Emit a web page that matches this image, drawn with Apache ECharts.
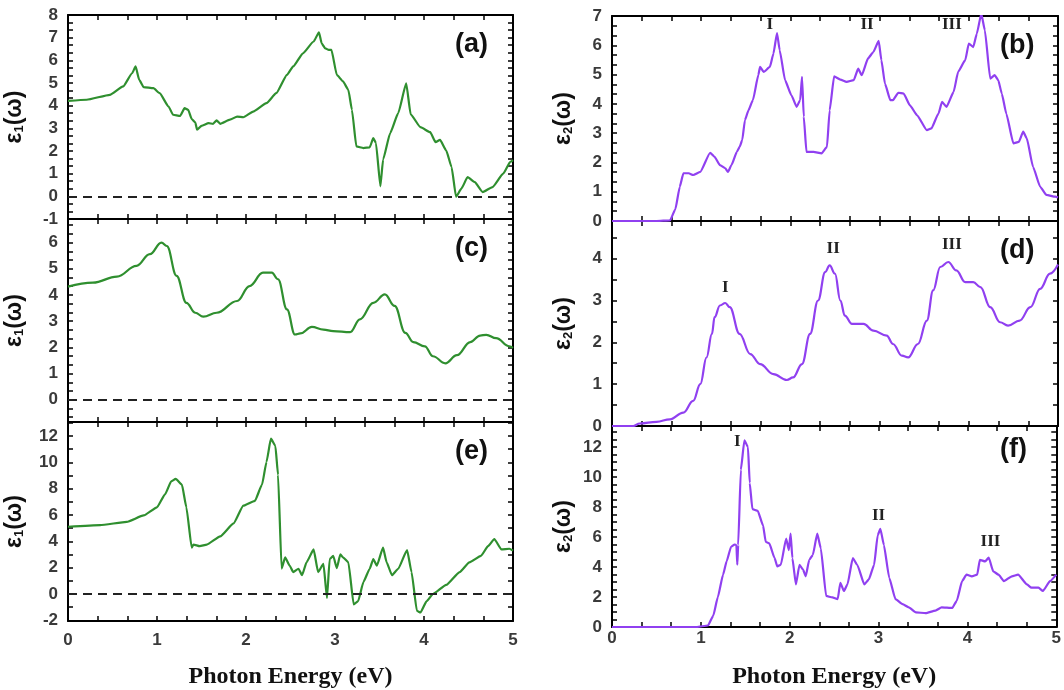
<!DOCTYPE html>
<html>
<head>
<meta charset="utf-8">
<script src="https://cdn.jsdelivr.net/npm/echarts@6/dist/echarts.min.js"></script>
<style>
html, body { margin: 0; padding: 0; background: #fff; }
#chart { width: 1064px; height: 690px; }
</style>
</head>
<body>
<div id="chart"></div>
<script>
// 读图得到的数据点 [能量 eV, 数值]
const eps1A = [
  [0, 4.21], [0.21, 4.26], [0.47, 4.48], [0.62, 4.85], [0.72, 5.43], [0.76, 5.73], [0.8, 5.14],
  [0.85, 4.82], [0.96, 4.77], [1.03, 4.55], [1.13, 3.96], [1.18, 3.6], [1.26, 3.55], [1.31, 3.89],
  [1.35, 3.82], [1.39, 3.41], [1.43, 3.26], [1.45, 2.94], [1.5, 3.11], [1.58, 3.23], [1.63, 3.2],
  [1.67, 3.35], [1.71, 3.2], [1.82, 3.38], [1.9, 3.52], [1.97, 3.49], [2.08, 3.74], [2.23, 4.11],
  [2.34, 4.55], [2.46, 5.36], [2.53, 5.73], [2.64, 6.31], [2.76, 6.83], [2.82, 7.24], [2.85, 6.75],
  [2.89, 6.53], [2.93, 6.46], [2.96, 6.46], [3.02, 5.36], [3.09, 5.07], [3.15, 4.7], [3.19, 3.82],
  [3.24, 2.2], [3.32, 2.13], [3.39, 2.16], [3.43, 2.57], [3.46, 2.35], [3.51, 0.44], [3.54, 1.62],
  [3.62, 2.79], [3.71, 3.67], [3.8, 4.99], [3.85, 3.62], [3.96, 3.05], [4.07, 2.83], [4.13, 2.39],
  [4.18, 2.49], [4.25, 2.02], [4.31, 1.29], [4.36, -0.02], [4.42, 0.34], [4.49, 0.85], [4.57, 0.63],
  [4.66, 0.19], [4.77, 0.41], [4.89, 1.0], [4.97, 1.52], [5, 1.6]
];
const eps1C = [
  [0, 4.32], [0.28, 4.47], [0.55, 4.7], [0.77, 5.11], [0.92, 5.56], [1.05, 6.0], [1.11, 5.87],
  [1.22, 4.73], [1.33, 3.7], [1.43, 3.32], [1.52, 3.17], [1.67, 3.32], [1.9, 3.77], [2.04, 4.34],
  [2.19, 4.85], [2.29, 4.85], [2.36, 4.6], [2.46, 3.45], [2.55, 2.49], [2.61, 2.53], [2.74, 2.78],
  [2.87, 2.68], [2.98, 2.62], [3.17, 2.58], [3.28, 3.07], [3.43, 3.7], [3.56, 4.02], [3.67, 3.58],
  [3.79, 2.55], [3.88, 2.2], [4.01, 2.04], [4.1, 1.66], [4.24, 1.39], [4.37, 1.7], [4.52, 2.2],
  [4.63, 2.45], [4.7, 2.48], [4.81, 2.35], [4.96, 2.04], [5, 1.98]
];
const eps1E = [
  [0, 5.11], [0.36, 5.24], [0.66, 5.48], [0.85, 5.97], [1.0, 6.59], [1.09, 7.57], [1.16, 8.56],
  [1.21, 8.75], [1.28, 8.31], [1.33, 6.59], [1.39, 3.52], [1.41, 3.76], [1.48, 3.64], [1.56, 3.76],
  [1.71, 4.38], [1.86, 5.36], [1.97, 6.71], [2.1, 7.08], [2.18, 8.31], [2.23, 10.03], [2.28, 11.8],
  [2.33, 11.26], [2.36, 9.05], [2.4, 1.92], [2.44, 2.78], [2.49, 2.16], [2.53, 1.67], [2.59, 1.92],
  [2.63, 1.43], [2.68, 2.41], [2.76, 3.39], [2.81, 1.67], [2.87, 2.29], [2.91, -0.3], [2.94, 2.66],
  [2.98, 2.9], [3.02, 1.97], [3.06, 3.02], [3.09, 2.78], [3.15, 2.41], [3.21, -0.79], [3.26, -0.54],
  [3.32, 0.93], [3.39, 1.92], [3.43, 2.66], [3.47, 2.16], [3.54, 3.52], [3.58, 2.41], [3.64, 1.43],
  [3.71, 1.92], [3.81, 3.34], [3.86, 1.67], [3.92, -1.28], [3.96, -1.4], [4.03, -0.54], [4.1, 0],
  [4.25, 0.69], [4.4, 1.67], [4.51, 2.41], [4.64, 2.9], [4.72, 3.64], [4.79, 4.18], [4.87, 3.39],
  [4.96, 3.44], [5, 3.3]
];
const eps2B = [
  [0, 0], [0.5, 0], [0.65, 0.02], [0.71, 0.4], [0.76, 1.17], [0.8, 1.63], [0.86, 1.63], [0.91, 1.57],
  [0.99, 1.68], [1.1, 2.33], [1.15, 2.19], [1.21, 1.91], [1.27, 1.8], [1.3, 1.68], [1.34, 1.91],
  [1.4, 2.36], [1.43, 2.53], [1.46, 2.76], [1.49, 3.44], [1.53, 3.78], [1.58, 4.13], [1.64, 4.98],
  [1.66, 5.26], [1.7, 5.09], [1.77, 5.26], [1.81, 5.72], [1.85, 6.42], [1.88, 5.83], [1.94, 4.81],
  [2.01, 4.3], [2.07, 3.9], [2.11, 4.13], [2.13, 4.92], [2.15, 3.56], [2.18, 2.36], [2.26, 2.36],
  [2.35, 2.31], [2.41, 2.53], [2.44, 3.78], [2.49, 4.94], [2.56, 4.83], [2.63, 4.75], [2.71, 4.81],
  [2.76, 5.2], [2.8, 4.98], [2.87, 5.55], [2.93, 5.77], [2.99, 6.15], [3.02, 5.49], [3.06, 4.69],
  [3.12, 4.13], [3.15, 4.13], [3.21, 4.38], [3.27, 4.35], [3.34, 3.95], [3.42, 3.61], [3.53, 3.1],
  [3.58, 3.16], [3.66, 3.67], [3.7, 4.07], [3.75, 3.9], [3.83, 4.41], [3.88, 5.09], [3.96, 5.49],
  [4.0, 6.06], [4.05, 5.94], [4.09, 6.4], [4.14, 7.08], [4.18, 6.51], [4.24, 4.86], [4.29, 4.98],
  [4.33, 4.81], [4.37, 4.35], [4.42, 3.67], [4.5, 2.65], [4.56, 2.7], [4.61, 3.05], [4.65, 2.82],
  [4.72, 1.85], [4.8, 1.17], [4.87, 0.89], [4.97, 0.83], [5, 0.8]
];
const eps2D = [
  [0, 0], [0.24, 0], [0.31, 0.06], [0.5, 0.1], [0.65, 0.16], [0.8, 0.32], [0.91, 0.6], [0.99, 1.0],
  [1.06, 1.64], [1.12, 2.2], [1.15, 2.6], [1.21, 2.88], [1.27, 2.94], [1.32, 2.84], [1.43, 2.2],
  [1.55, 1.72], [1.66, 1.48], [1.81, 1.24], [1.96, 1.1], [2.03, 1.16], [2.13, 1.48], [2.22, 2.2],
  [2.31, 3.0], [2.39, 3.68], [2.44, 3.84], [2.5, 3.64], [2.56, 3.0], [2.61, 2.64], [2.69, 2.44],
  [2.82, 2.44], [2.93, 2.28], [3.08, 2.16], [3.15, 1.96], [3.25, 1.68], [3.32, 1.64], [3.43, 1.96],
  [3.53, 2.52], [3.6, 3.24], [3.68, 3.8], [3.77, 3.92], [3.86, 3.72], [3.96, 3.44], [4.05, 3.44],
  [4.13, 3.32], [4.24, 2.84], [4.35, 2.48], [4.44, 2.4], [4.57, 2.52], [4.69, 2.84], [4.8, 3.28],
  [4.91, 3.64], [5, 3.86]
];
const eps2F = [
  [0, 0], [0.95, 0], [1.08, 0.1], [1.14, 0.76], [1.19, 1.97], [1.25, 3.49], [1.29, 4.37], [1.34, 5.35],
  [1.38, 5.5], [1.4, 5.46], [1.41, 4.15], [1.42, 5.46], [1.45, 10.48], [1.49, 12.45], [1.53, 12.0],
  [1.55, 9.6], [1.58, 7.86], [1.64, 7.75], [1.7, 6.77], [1.73, 5.68], [1.77, 5.57], [1.83, 4.59],
  [1.86, 4.04], [1.9, 4.15], [1.96, 5.9], [1.99, 5.13], [2.01, 6.22], [2.03, 4.59], [2.07, 2.84],
  [2.11, 4.15], [2.15, 3.82], [2.18, 3.38], [2.22, 4.48], [2.26, 4.8], [2.31, 6.22], [2.35, 5.24],
  [2.41, 2.07], [2.48, 1.97], [2.54, 1.86], [2.57, 2.95], [2.61, 2.4], [2.65, 2.84], [2.71, 4.59],
  [2.76, 4.15], [2.84, 2.84], [2.89, 3.17], [2.95, 4.15], [2.99, 6.11], [3.02, 6.55], [3.06, 5.46],
  [3.12, 3.28], [3.19, 1.86], [3.27, 1.53], [3.34, 1.31], [3.42, 0.98], [3.53, 0.92], [3.64, 1.09],
  [3.71, 1.31], [3.83, 1.27], [3.88, 1.75], [3.94, 3.06], [3.99, 3.49], [4.05, 3.38], [4.11, 3.49],
  [4.14, 4.48], [4.2, 4.37], [4.24, 4.63], [4.29, 3.71], [4.35, 3.49], [4.41, 3.06], [4.5, 3.38],
  [4.57, 3.49], [4.67, 2.84], [4.72, 2.62], [4.8, 2.62], [4.85, 2.4], [4.93, 3.06], [5, 3.49]
];

// 刻度标签
const energyLabels = [0, 1, 2, 3, 4, 5];
const labelsA = [-1, 0, 1, 2, 3, 4, 5, 6, 7, 8];
const labelsC = [0, 1, 2, 3, 4, 5, 6];
const labelsE = [-2, 0, 2, 4, 6, 8, 10, 12];
const labelsB = [0, 1, 2, 3, 4, 5, 6, 7];
const labelsD = [0, 1, 2, 3, 4];
const labelsF = [0, 2, 4, 6, 8, 10, 12];

// 峰的罗马数字标注
const peaksB = [['I', 1.77, 6.69], ['II', 2.86, 6.69], ['III', 3.81, 6.69]];
const peaksD = [['I', 1.27, 3.3], ['II', 2.48, 4.23], ['III', 3.81, 4.33]];
const peaksF = [['I', 1.41, 12.35], ['II', 3.0, 7.42], ['III', 4.26, 5.71]];

const GREEN = '#2f8f2f';
const PURPLE = '#9040f0';
const TICK_COLOR = '#3a3a3a';

// 生成刻度位置
const steps = (lo, hi, step) => {
    const out = [];
    for (let k = Math.ceil(lo / step - 1e-6); k * step <= hi + 1e-6; k++) {
        out.push(+(k * step).toFixed(6));
    }
    return out;
};

const panels = [
    { tag: '(a)', data: eps1A, color: GREEN, left: 68, top: 15, width: 445, height: 204, min: -1, max: 8, labels: labelsA, tickStep: 1 / 3, sub: '1', zero: true },
    { tag: '(c)', data: eps1C, color: GREEN, left: 68, top: 219, width: 445, height: 203, min: -0.85, max: 6.9, labels: labelsC, tickStep: 1 / 3, sub: '1', zero: true, smooth: true },
    { tag: '(e)', data: eps1E, color: GREEN, left: 68, top: 422, width: 445, height: 205, min: -2.05, max: 13.07, labels: labelsE, tickStep: 1, sub: '1', zero: true, bottom: true, xMargin: 11, nameGap: 44 },
    { tag: '(b)', data: eps2B, color: PURPLE, left: 612, top: 16, width: 446, height: 205, min: 0, max: 7, labels: labelsB, tickStep: 1 / 3, sub: '2', peaks: peaksB },
    { tag: '(d)', data: eps2D, color: PURPLE, left: 612, top: 221, width: 446, height: 205, min: 0, max: 4.9, labels: labelsD, tickStep: 0.5, sub: '2', peaks: peaksD, smooth: true },
    { tag: '(f)', data: eps2F, color: PURPLE, left: 612, top: 426, width: 446, height: 204, min: 0, max: 13.4, labels: labelsF, tickStep: 0.5, sub: '2', peaks: peaksF, bottom: true, xMargin: 3, nameGap: 38 }
];

const tickStyle = { show: true, inside: true, length: 5, lineStyle: { color: '#000', width: 1.5 } };
const lineStyle = { show: true, onZero: false, lineStyle: { color: '#000', width: 2 } };
const xTicks = steps(0, 5, 1 / 3);

const grid = [], xAxis = [], yAxis = [], series = [], graphic = [];

panels.forEach((p, i) => {
    grid.push({ left: p.left, top: p.top, width: p.width, height: p.height });
    const yTicks = steps(p.min, p.max, p.tickStep);
    const isLeft = p.left < 300;

    // 底部和顶部 x 轴
    xAxis.push({
        type: 'value', gridIndex: i, min: 0, max: 5, position: 'bottom',
        axisLine: lineStyle,
        axisTick: Object.assign({ customValues: xTicks }, tickStyle),
        axisLabel: {
            show: !!p.bottom, customValues: energyLabels, margin: p.xMargin || 8,
            color: TICK_COLOR, fontSize: 17, fontWeight: 'bold', fontFamily: 'Liberation Sans, Arial'
        },
        splitLine: { show: false },
        name: p.bottom ? 'Photon Energy (eV)' : '',
        nameLocation: 'middle', nameGap: p.nameGap || 40,
        nameTextStyle: { fontFamily: 'Liberation Serif, Times New Roman', fontWeight: 'bold', fontSize: 24, color: '#111' }
    });
    xAxis.push({
        type: 'value', gridIndex: i, min: 0, max: 5, position: 'top',
        axisLine: lineStyle,
        axisTick: Object.assign({ customValues: xTicks }, tickStyle),
        axisLabel: { show: false }, splitLine: { show: false }
    });

    // 左侧和右侧 y 轴
    yAxis.push({
        type: 'value', gridIndex: i, min: p.min, max: p.max, position: 'left',
        axisLine: lineStyle,
        axisTick: Object.assign({ customValues: yTicks }, tickStyle),
        axisLabel: {
            customValues: p.labels, margin: 10,
            color: TICK_COLOR, fontSize: 17, fontWeight: 'bold', fontFamily: 'Liberation Sans, Arial'
        },
        splitLine: { show: false },
        name: '{e|ε}{s|' + p.sub + '}{e|(ω)}',
        nameLocation: 'middle', nameRotate: 90, nameGap: isLeft ? 42 : 37,
        nameTextStyle: {
            rich: {
                e: { fontFamily: 'Liberation Sans, Arial', fontWeight: 'bold', fontSize: 23, color: '#111' },
                s: { fontFamily: 'Liberation Sans, Arial', fontWeight: 'bold', fontSize: 13, color: '#111', verticalAlign: 'bottom', padding: [10, 0, 0, 0] }
            }
        }
    });
    yAxis.push({
        type: 'value', gridIndex: i, min: p.min, max: p.max, position: 'right',
        axisLine: lineStyle,
        axisTick: Object.assign({ customValues: yTicks }, tickStyle),
        axisLabel: { show: false }, splitLine: { show: false }
    });

    const s = {
        type: 'line', xAxisIndex: 2 * i, yAxisIndex: 2 * i,
        data: p.data, showSymbol: false, symbol: 'none',
        smooth: p.smooth ? 0.4 : 0.15, smoothMonotone: 'x',
        lineStyle: { color: p.color, width: 2.2 }, clip: true, silent: true, z: 3
    };
    if (p.zero) {
        s.markLine = {
            silent: true, symbol: ['none', 'none'], label: { show: false },
            lineStyle: { type: [9, 6], color: '#222', width: 2 },
            data: [{ yAxis: 0 }]
        };
    }
    if (p.peaks) {
        s.markPoint = {
            silent: true, symbol: 'rect', symbolSize: 1,
            itemStyle: { color: 'rgba(0,0,0,0)' },
            label: {
                show: true, position: 'inside', formatter: '{b}',
                fontFamily: 'Liberation Serif, Times New Roman', fontWeight: 'bold', fontSize: 17, color: '#222'
            },
            data: p.peaks.map(([name, x, y]) => ({ name: name, coord: [x, y] }))
        };
    }
    series.push(s);

    // 子图标号
    graphic.push({
        type: 'text', left: p.left + p.width - 58, top: p.top + (p.tag === '(f)' ? 10 : 16),
        style: { text: p.tag, font: 'bold 27px "Liberation Sans", Arial', fill: '#111' }
    });
});

const myChart = echarts.init(document.getElementById('chart'));
myChart.setOption({
    animation: false,
    backgroundColor: '#fff',
    grid: grid,
    xAxis: xAxis,
    yAxis: yAxis,
    series: series,
    graphic: graphic
});
</script>
</body>
</html>
